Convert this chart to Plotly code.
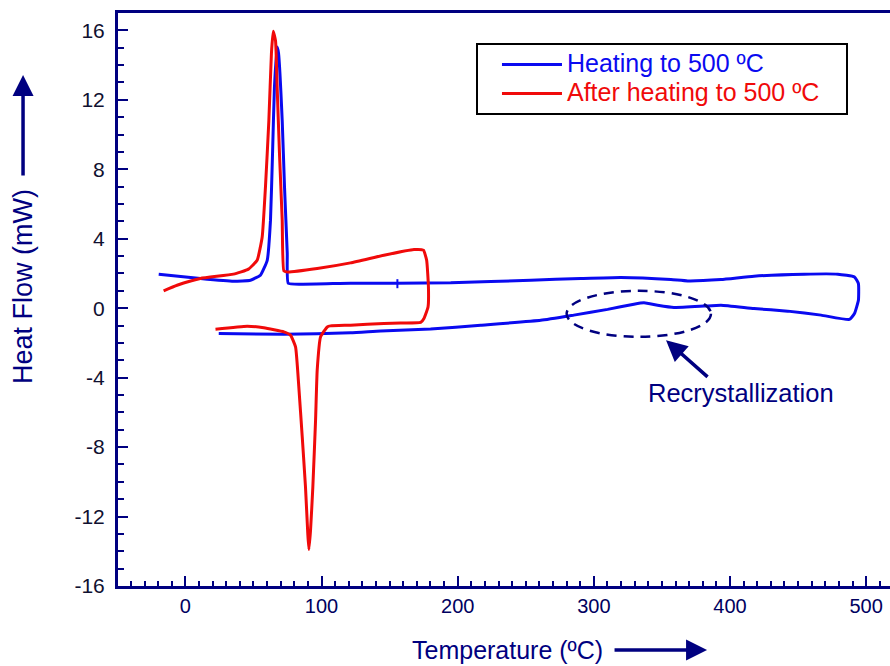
import plotly.graph_objects as go

# ---- data ----
heat_x = [-19.6, 11.0, 35.3, 47.8, 55.1, 60.1, 62.5, 64.0, 65.4, 67.4, 68.4, 71.1, 72.8, 74.8, 75.5,
          84.6, 121.3, 155.7, 194.9, 253.7, 290.4, 319.9, 356.6, 368.9, 393.4, 417.6, 454.4, 479.2,
          491.4, 494.3, 494.3, 491.4, 487.7,
          466.9, 442.4, 417.6, 393.4, 380.9, 358.8, 346.8, 336.8, 329.4, 310.1, 285.3, 261.0,
          216.9, 180.1, 143.4, 121.3, 72.1, 24.5]
heat_y = [1.96, 1.71, 1.55, 1.61, 1.90, 2.76, 5.07, 8.92, 12.72, 15.04, 14.68, 10.82, 6.97, 3.17, 1.44,
          1.38, 1.44, 1.44, 1.46, 1.61, 1.71, 1.77, 1.65, 1.57, 1.65, 1.84, 1.96, 1.96,
          1.80, 1.42, 0.46, -0.31, -0.65,
          -0.40, -0.17, -0.02, 0.17, 0.12, 0.04, 0.17, 0.31, 0.23, -0.07, -0.40, -0.70,
          -0.98, -1.20, -1.31, -1.42, -1.50, -1.46]
mark_x = [155.7, 155.7]
mark_y = [1.67, 1.15]

after_x = [-16.0, -6.1, 11.0, 35.3, 46.3, 52.7, 56.4, 58.8, 61.3, 63.2, 64.5, 66.2, 67.4, 69.1,
           71.1, 72.3, 74.8, 96.8, 121.3, 145.8, 167.9, 174.8, 177.2, 178.5, 178.2, 175.2, 172.8,
           158.0, 145.8, 121.3, 106.6, 104.2, 99.3, 96.8, 95.6, 93.6, 91.9, 90.7, 89.9, 88.2,
           85.8, 83.3, 80.9, 77.2, 72.3, 57.6, 45.4, 22.1]
after_y = [1.00, 1.32, 1.71, 1.96, 2.25, 2.76, 4.10, 6.98, 10.80, 14.70, 15.95, 15.40, 12.70, 8.90,
           5.07, 2.15, 2.09, 2.29, 2.61, 3.05, 3.38, 3.34, 2.76, 1.23, 0.07, -0.59, -0.82,
           -0.85, -0.88, -0.98, -1.02, -1.08, -1.65, -3.57, -6.45, -10.3, -12.8, -13.9, -13.0, -10.3,
           -7.40, -4.53, -2.23, -1.55, -1.36, -1.13, -1.04, -1.21]

x_ticks = [0, 100, 200, 300, 400, 500]
y_ticks = [-16, -12, -8, -4, 0, 4, 8, 12, 16]

NAVY = "#000080"
BLUE = "#0a0af0"
RED = "#f00a0a"
FONT = "Liberation Sans, Arial, sans-serif"
PAD = "\u00a0\u00a0\u00a0"

fig = go.Figure()
fig.add_trace(go.Scatter(x=heat_x, y=heat_y, mode="lines",
                         line=dict(color=BLUE, width=3, shape="spline", smoothing=0.4),
                         name=f'<span style="color:{BLUE};font-size:25px">Heating to 500 ºC{PAD}</span>'))
fig.add_trace(go.Scatter(x=after_x, y=after_y, mode="lines",
                         line=dict(color=RED, width=3, shape="spline", smoothing=0.4),
                         name=f'<span style="color:{RED};font-size:25px">After heating to 500 ºC{PAD}</span>'))
fig.add_trace(go.Scatter(x=mark_x, y=mark_y, mode="lines", line=dict(color=BLUE, width=2),
                         showlegend=False, hoverinfo="skip"))

fig.update_layout(
    width=890, height=666,
    margin=dict(l=118, r=0, t=13, b=80),
    paper_bgcolor="white", plot_bgcolor="white",
    font=dict(family=FONT, size=21, color="#101040"),
    legend=dict(x=0.4637, y=0.9476, xanchor="left", yanchor="top",
                bordercolor="black", borderwidth=2, bgcolor="white",
                font=dict(size=20, family=FONT), itemwidth=60, tracegroupgap=0,
                indentation=19),
    showlegend=True,
)

fig.update_xaxes(range=[-49.5, 517.5], tickvals=x_ticks, ticktext=[str(v) for v in x_ticks],
                 ticks="inside", ticklen=10, tickwidth=2, tickcolor=NAVY,
                 minor=dict(dtick=10, tick0=0, ticks="inside", ticklen=5, tickwidth=2, tickcolor=NAVY),
                 showline=True, linecolor=NAVY, linewidth=3, mirror=True,
                 showgrid=False, zeroline=False,
                 tickfont=dict(size=20, color="#000060", family=FONT), ticklabelstandoff=0)
fig.update_yaxes(range=[-16, 17], tickvals=y_ticks, ticktext=[str(v) for v in y_ticks],
                 ticks="inside", ticklen=10, tickwidth=2, tickcolor=NAVY,
                 minor=dict(dtick=1, tick0=0, ticks="inside", ticklen=6, tickwidth=2, tickcolor=NAVY),
                 showline=True, linecolor=NAVY, linewidth=3, mirror=False,
                 showgrid=False, zeroline=False,
                 tickfont=dict(size=21, color="#101030", family=FONT), ticklabelstandoff=6)

# recrystallization ellipse
fig.add_shape(type="circle", xref="x", yref="y", x0=280, x1=386, y0=-1.65, y1=1.0,
              line=dict(color=NAVY, width=2.5, dash="10px,7px"))

annotations = [
    dict(x=353, y=-1.84, ax=384.6, ay=-4.03, xref="x", yref="y", axref="x", ayref="y",
         text="", showarrow=True, arrowhead=2, arrowsize=1.2, arrowwidth=3.5, arrowcolor=NAVY),
    dict(x=408, y=-4.9, xref="x", yref="y", text="Recrystallization", showarrow=False,
         xanchor="center", yanchor="middle",
         font=dict(size=25.5, color=NAVY, family=FONT)),
    # axis titles
    dict(x=-0.123, y=0.522, xref="paper", yref="paper", text="Heat Flow (mW)", textangle=-90,
         xanchor="center", yanchor="middle",
         showarrow=False, font=dict(size=27, color=NAVY, family=FONT)),
    dict(x=-0.123, y=0.892, ax=0, ay=102, xref="paper", yref="paper",
         text="", showarrow=True, arrowhead=2, arrowsize=1.2, arrowwidth=3.5, arrowcolor=NAVY),
    dict(x=0.505, y=-0.1117, xref="paper", yref="paper", text="Temperature (ºC)",
         xanchor="center", yanchor="middle",
         showarrow=False, font=dict(size=25, color=NAVY, family=FONT)),
    dict(x=0.763, y=-0.1117, ax=-94, ay=0, xref="paper", yref="paper",
         text="", showarrow=True, arrowhead=2, arrowsize=1.2, arrowwidth=3.5, arrowcolor=NAVY),
]
fig.update_layout(annotations=annotations)

fig.write_html("out.html", config={"displayModeBar": False},
               post_script="document.body.style.margin='0px';")
